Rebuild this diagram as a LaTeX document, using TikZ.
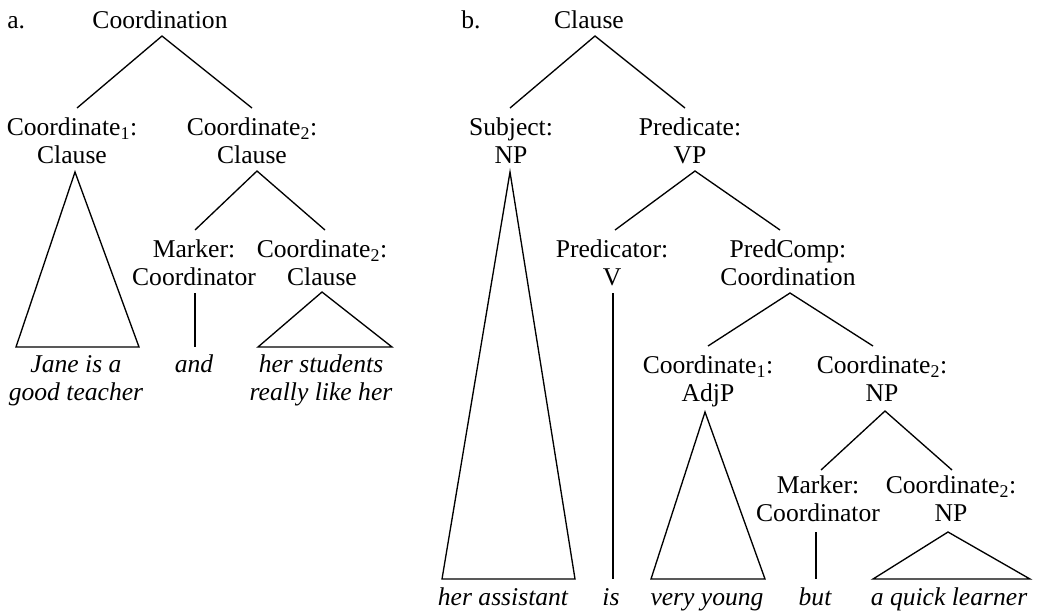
\documentclass[tikz,border=0pt]{standalone}
\usepackage{fontspec}
\setmainfont{Liberation Serif}
\begin{document}
\begin{tikzpicture}[x=0.75pt,y=-0.75pt,
  lab/.style={inner sep=0pt,align=center,anchor=base,font=\fontsize{19.2pt}{21pt}\selectfont},
  leaf/.style={lab,font=\fontsize{19.2pt}{21pt}\selectfont\itshape},
  edge/.style={line width=1pt,line join=miter}]
\useasboundingbox (0,0) rectangle (1037,612);
% ---------- tree a ----------
\node[lab,anchor=base west] (la) at (7,28) {a.};
\node[lab] (A0) at (160,28) {Coordination};
\node[lab] (A1) at (72,163) {Coordinate\textsubscript{1}:\\Clause};
\node[lab] (A2) at (252,163) {Coordinate\textsubscript{2}:\\Clause};
\node[lab] (A3) at (194,285) {Marker:\\Coordinator};
\node[lab] (A4) at (322,285) {Coordinate\textsubscript{2}:\\Clause};
\node[leaf] (A5) at (76,400) {Jane is a\\good teacher};
\node[leaf] (A6) at (194,372) {and};
\node[leaf] (A7) at (321,400) {her students\\really like her};
\coordinate (a0) at (162,36);
\coordinate (a1t) at (77,108);
\coordinate (a2t) at (252,108);
\coordinate (a1b) at (75,172);
\coordinate (a5l) at (16,347);
\coordinate (a5r) at (139,347);
\coordinate (a2b) at (257,171);
\coordinate (a3t) at (195,230);
\coordinate (a4t) at (325,230);
\coordinate (a3b) at (195,293);
\coordinate (a6t) at (195,347);
\coordinate (a4b) at (322,292);
\coordinate (a7l) at (258,347);
\coordinate (a7r) at (392,347);
\draw[edge] (a1t) -- (a0) -- (a2t);
\draw[edge] (a5l) -- (a1b) -- (a5r) -- cycle;
\draw[edge] (a3t) -- (a2b) -- (a4t);
\draw[edge] (a3b) -- (a6t);
\draw[edge] (a7l) -- (a4b) -- (a7r) -- cycle;
% ---------- tree b ----------
\node[lab,anchor=base west] (lb) at (461,28) {b.};
\node[lab] (B0) at (589,28) {Clause};
\node[lab] (B1) at (511,163) {Subject:\\NP};
\node[lab] (B2) at (690,163) {Predicate:\\VP};
\node[lab] (B3) at (612,285) {Predicator:\\V};
\node[lab] (B4) at (788,285) {PredComp:\\Coordination};
\node[lab] (B5) at (708,401) {Coordinate\textsubscript{1}:\\AdjP};
\node[lab] (B6) at (882,401) {Coordinate\textsubscript{2}:\\NP};
\node[lab] (B7) at (818,521) {Marker:\\Coordinator};
\node[lab] (B8) at (951,521) {Coordinate\textsubscript{2}:\\NP};
\node[leaf] (L1) at (503,605) {her assistant};
\node[leaf] (L2) at (611,605) {is};
\node[leaf] (L3) at (707,605) {very young};
\node[leaf] (L4) at (815,605) {but};
\node[leaf] (L5) at (949,605) {a quick learner};
\coordinate (b0) at (595,36);
\coordinate (b1t) at (510,108);
\coordinate (b2t) at (685,108);
\coordinate (b1b) at (510,172);
\coordinate (l1l) at (442,579);
\coordinate (l1r) at (575,579);
\coordinate (b2b) at (695,171);
\coordinate (b3t) at (615,230);
\coordinate (b4t) at (780,230);
\coordinate (b3b) at (613,293);
\coordinate (l2t) at (613,579);
\coordinate (b4b) at (790,293);
\coordinate (b5t) at (708,346);
\coordinate (b6t) at (873,346);
\coordinate (b5b) at (705,412);
\coordinate (l3l) at (651,579);
\coordinate (l3r) at (765,579);
\coordinate (b6b) at (885,411);
\coordinate (b7t) at (821,470);
\coordinate (b8t) at (952,470);
\coordinate (b7b) at (816,532);
\coordinate (l4t) at (816,579);
\coordinate (b8b) at (948,532);
\coordinate (l5l) at (873,579);
\coordinate (l5r) at (1030,579);
\draw[edge] (b1t) -- (b0) -- (b2t);
\draw[edge] (l1l) -- (b1b) -- (l1r) -- cycle;
\draw[edge] (b3t) -- (b2b) -- (b4t);
\draw[edge] (b3b) -- (l2t);
\draw[edge] (b5t) -- (b4b) -- (b6t);
\draw[edge] (l3l) -- (b5b) -- (l3r) -- cycle;
\draw[edge] (b7t) -- (b6b) -- (b8t);
\draw[edge] (b7b) -- (l4t);
\draw[edge] (l5l) -- (b8b) -- (l5r) -- cycle;
\end{tikzpicture}
\end{document}
